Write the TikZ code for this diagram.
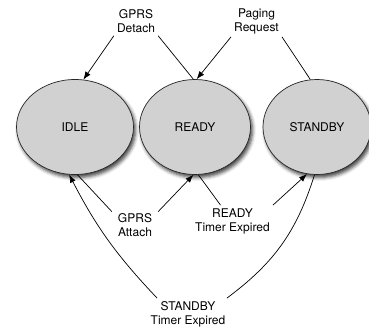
\documentclass[tikz,border=0pt]{standalone}
\usepackage{fontspec}
\setmainfont{TeX Gyre Heros}
\usetikzlibrary{shapes.geometric,arrows.meta,shadows.blur}

\begin{document}
\begin{tikzpicture}[x=1pt,y=-1pt,
    state/.style={ellipse, draw=black!85, line width=0.7pt, fill=black!18,
      minimum height=95pt, inner sep=0pt, font=\fontsize{12}{14}\selectfont,
      blur shadow={shadow xshift=2pt, shadow yshift=-3pt, shadow blur radius=3.5pt, shadow opacity=75}},
    event/.style={align=center, inner sep=3pt, font=\fontsize{12}{14}\selectfont},
    trans/.style={line width=0.7pt, -{Latex[length=8pt,width=6pt]}},
    link/.style={line width=0.7pt}]
  \useasboundingbox (0,0) rectangle (369,329);
  % States
  \node[state, minimum width=117pt] (idle) at (75,127) {IDLE};
  \node[state, minimum width=111pt] (ready) at (195,127) {READY};
  \node[state, minimum width=108pt] (standby) at (317,127) {STANDBY};
  % Labels
  \node[event] (detach) at (136,21) {GPRS\\Detach};
  \node[event] (paging) at (256.5,21) {Paging\\Request};
  \node[event, inner xsep=6pt] (attach) at (135,225) {GPRS\\Attach};
  \node[event] (readyexp) at (232.5,221) {READY\\Timer Expired};
  \node[event] (standbyexp) at (188,314) {STANDBY\\Timer Expired};
  % Transitions
  \draw[trans] (detach.south west) -- (idle.80);
  \draw[link] (detach.south east) -- (ready.92);
  \draw[trans] (paging.south west) -- (ready.88);
  \draw[link] (paging.south east) -- (standby.98);
  \draw[link] (attach.150) -- (idle.273);
  \draw[trans] (attach.30) -- (ready.268);
  \draw[link] (ready.274) -- ([xshift=-12pt]readyexp.north);
  \draw[trans] (readyexp.north east) -- (standby.258);
  \draw[trans] ([xshift=-31pt]standbyexp.north) to[bend left=8] (idle.263);
  \draw[link] (standby.267) to[bend left=18] ([xshift=39pt]standbyexp.north);
\end{tikzpicture}
\end{document}
